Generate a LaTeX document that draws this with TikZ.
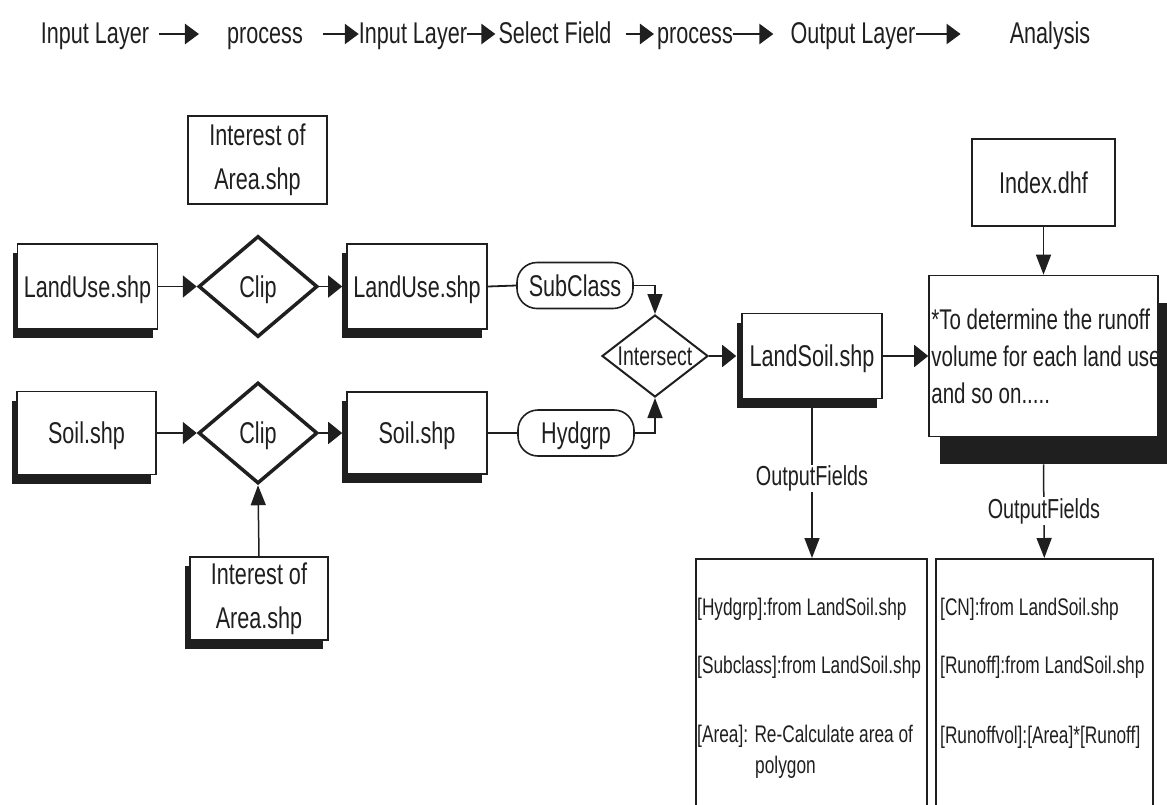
\documentclass[tikz,border=0pt]{standalone}
\usepackage{fontspec}
\setmainfont{Liberation Sans}[FakeStretch=0.72]
\usetikzlibrary{arrows.meta,shapes.geometric,shadows}
\definecolor{ink}{gray}{0.12}

\begin{document}
\begin{tikzpicture}[x=1pt,y=-1pt,
  every node/.style={text=ink},
  box/.style={draw=ink,line width=1.6pt,fill=white,inner sep=0pt,minimum width=140pt,minimum height=85pt,font=\fontsize{30}{34}\selectfont},
  ctr/.style={text height=21pt,text depth=0pt},
  shd/.style={drop shadow={shadow xshift=-5pt,shadow yshift=-9pt,opacity=1,fill=ink}},
  clipd/.style={diamond,draw=ink,line width=3.5pt,fill=white,inner sep=0pt,minimum width=119pt,minimum height=101pt,font=\fontsize{30}{34}\selectfont},
  fld/.style={draw=ink,line width=1.6pt,rounded corners=20pt,inner sep=0pt,minimum width=116pt,minimum height=46pt,font=\fontsize{30}{34}\selectfont},
  hl/.style={draw=ink,line width=1.8pt,-{Triangle[length=14pt,width=22pt]}},
  vl/.style={draw=ink,line width=1.5pt,-{Triangle[length=20pt,width=15pt]}},
  ln/.style={draw=ink,line width=1.8pt},
  toptxt/.style={anchor=base,inner sep=0pt,text height=24pt,text depth=6pt,font=\fontsize{30}{34}\selectfont},
  toparr/.style={draw=ink,line width=2.6pt,-{Triangle[length=14pt,width=20pt]}},
  fldtxt/.style={anchor=base west,inner sep=0pt,align=left,font=\fontsize{24}{31}\selectfont},
  ofl/.style={fill=white,inner sep=1pt,font=\fontsize{27.5}{32}\selectfont}]
\useasboundingbox (0,0) rectangle (1167,804);

% legend row
\node[toptxt] (t1) at (95,43) {Input Layer};
\node[toptxt] (t2) at (265,43) {process};
\node[toptxt] (t3) at (413,43) {Input Layer};
\node[toptxt] (t4) at (555,43) {Select Field};
\node[toptxt] (t5) at (695,43) {process};
\node[toptxt] (t6) at (853,43) {Output Layer};
\node[toptxt] (t7) at (1050,43) {Analysis};
\draw[toparr,shorten <=10pt,shorten >=28pt] (t1.east) -- (t2.west);
\draw[toparr,shorten <=20pt] (t2.east) -- (t3.west);
\draw[toparr,shorten >=3pt] (t3.east) -- (t4.west);
\draw[toparr,shorten <=14pt,shorten >=3pt] (t4.east) -- (t5.west);
\draw[toparr,shorten >=17pt] (t5.east) -- (t6.west);
\draw[toparr,shorten >=49pt] (t6.east) -- (t7.west);

% inputs and clipping
\node[box,align=center,minimum width=139pt,minimum height=88pt,line width=1.4pt,font=\fontsize{30}{44}\selectfont] (aoi1) at (257.5,160) {Interest of\\Area.shp};
\node[box,ctr,shd] (lu1) at (87.5,286.5) {LandUse.shp};
\node[clipd,ctr] (clip1) at (258,286.5) {Clip};
\node[box,ctr,shd] (lu2) at (417,286.5) {LandUse.shp};
\node[box,ctr,shd,minimum width=139pt,minimum height=83pt] (soil1) at (86.5,433) {Soil.shp};
\node[clipd,ctr] (clip2) at (258,433) {Clip};
\node[box,ctr,shd,minimum height=82pt] (soil2) at (417,433) {Soil.shp};
\node[box,shd,align=center,minimum width=138pt,minimum height=83pt,font=\fontsize{30}{44}\selectfont] (aoi2) at (259,598.5) {Interest of\\Area.shp};
\draw[hl] (lu1.east) -- (clip1.west);
\draw[hl,shorten >=4pt] (clip1.east) -- (lu2.west);
\draw[hl] (soil1.east) -- (clip2.west);
\draw[hl,shorten >=4pt] (clip2.east) -- (soil2.west);
\draw[vl] (aoi2.north) -- (clip2.south);

% fields and intersect
\node[fld,ctr] (sub) at (575,285.5) {SubClass};
\node[fld,ctr] (hyd) at (576,433) {Hydgrp};
\node[diamond,draw=ink,line width=2pt,fill=white,inner sep=0pt,aspect=1.6,minimum width=106pt,minimum height=82pt,text height=19.5pt,text depth=0pt,font=\fontsize{27}{30}\selectfont] (isect) at (655,356) {Intersect};
\draw[ln] (lu2.east) -- (sub.west);
\draw[ln] (soil2.east) -- (hyd.west);
\draw[vl] (sub.east) -| (isect.north);
\draw[vl] (hyd.east) -| (isect.south);

% output layer and analysis
\node[box,ctr,shd] (lsoil) at (812,356) {LandSoil.shp};
\node[box,ctr,minimum width=143pt,minimum height=87pt] (idx) at (1043.5,182.5) {Index.dhf};
\node[box,minimum width=229pt,minimum height=161pt,drop shadow={shadow xshift=11pt,shadow yshift=-27pt,opacity=1,fill=ink}] (runoff) at (1043.5,356) {};
\node[anchor=west,align=left,inner sep=0pt,font=\fontsize{28.5}{37}\selectfont] (runtxt) at ([xshift=3pt]runoff.west) {*To determine the runoff\\volume for each land use\\and so on.....};
\draw[hl,shorten >=5pt] (isect.east) -- (lsoil.west);
\draw[hl] (lsoil.east) -- (runoff.west);
\draw[vl] (idx.south) -- (runoff.north);

\node[draw=ink,line width=1.6pt,anchor=north west,minimum width=231pt,minimum height=262pt] (outa) at (695,558) {};
\node[draw=ink,line width=1.6pt,anchor=north west,minimum width=217pt,minimum height=262pt] (outb) at (935,558) {};
\draw[vl] (lsoil.south) -- (lsoil.south |- outa.north) node[ofl,pos=0.5] (ofa) {OutputFields};
\draw[vl] ([yshift=-27pt]runoff.south) -- (outb.north) node[ofl,pos=0.5] (ofb) {OutputFields};

\node[fldtxt] (fa1) at (697,615) {[Hydgrp]:from LandSoil.shp};
\node[fldtxt] (fa2) at (697,673) {[Subclass]:from LandSoil.shp};
\node[fldtxt] (fa3) at (697,773) {[Area]: Re-Calculate area of\\\hspace*{58pt}polygon};
\node[fldtxt] (fb1) at (940,615) {[CN]:from LandSoil.shp};
\node[fldtxt] (fb2) at (940,673) {[Runoff]:from LandSoil.shp};
\node[fldtxt] (fb3) at (940,743) {[Runoffvol]:[Area]*[Runoff]};
\end{tikzpicture}
\end{document}
